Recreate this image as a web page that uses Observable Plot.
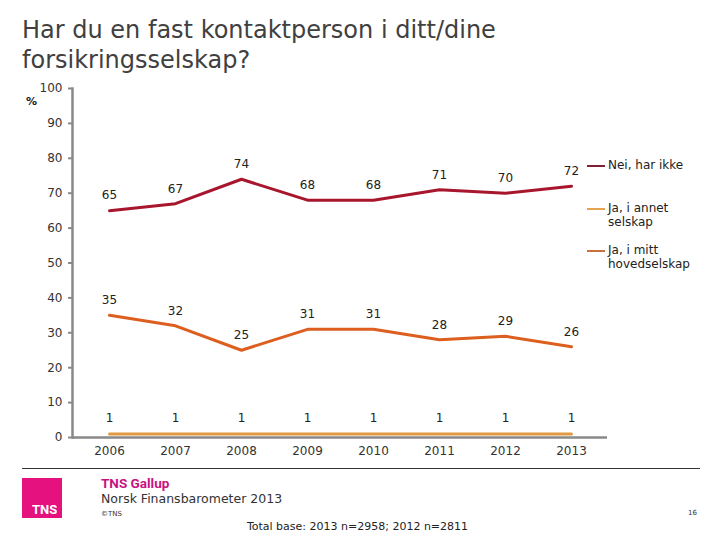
<!DOCTYPE html>
<html>
<head>
<meta charset="utf-8">
<script src="https://cdn.jsdelivr.net/npm/d3@7"></script>
<script src="https://cdn.jsdelivr.net/npm/@observablehq/plot@0.6"></script>
<style>
  body { margin: 0; background: #fff; font-family: "DejaVu Sans", Verdana, sans-serif; color: #333; }
  #page { position: relative; width: 720px; height: 540px; overflow: hidden; }
  #title { height: 80px; box-sizing: border-box; padding: 15px 0 0 22px; font-size: 24px; line-height: 30px; color: #404040; }
  .abs { position: absolute; white-space: nowrap; }
  .leg-line { position: absolute; width: 18px; height: 0; border-top: 2px solid; }
  .leg-text { position: absolute; font-size: 12px; line-height: 14px; color: #222; }
</style>
</head>
<body>
<div id="page">
  <div id="title">Har du en fast kontaktperson i ditt/dine<br>forsikringsselskap?</div>
  <div id="chart"></div>
  <div class="abs" style="left:26px;top:95px;font-size:11px;font-weight:bold;color:#222;">%</div>
  <div id="legend"></div>
  <div class="abs" style="left:22px;top:468px;width:678px;height:1px;background:#333;"></div>
  <div class="abs" style="left:22px;top:478px;width:40px;height:40px;background:#e5117f;">
    <div class="abs" style="left:10px;bottom:1px;font-family:Roboto,sans-serif;font-weight:bold;font-size:13px;color:#fff;">TNS</div>
  </div>
  <div class="abs" style="left:101px;top:475px;font-family:Roboto,sans-serif;font-weight:bold;font-size:13.5px;color:#c8137f;">TNS Gallup</div>
  <div class="abs" style="left:101px;top:491px;font-size:12.5px;color:#333;">Norsk Finansbarometer 2013</div>
  <div class="abs" style="left:101px;top:510px;font-size:7px;color:#333;">©TNS</div>
  <div class="abs" style="left:688px;top:509px;font-size:7px;color:#333;">16</div>
  <div class="abs" style="left:0;width:715px;text-align:center;top:520px;font-size:11px;color:#222;">Total base: 2013 n=2958; 2012 n=2811</div>
</div>
<script>
const years = ["2006", "2007", "2008", "2009", "2010", "2011", "2012", "2013"];
const seriesNames = ["Nei, har ikke", "Ja, i annet selskap", "Ja, i mitt hovedselskap"];
const neiHarIkke = [65, 67, 74, 68, 68, 71, 70, 72];
const jaAnnet = [1, 1, 1, 1, 1, 1, 1, 1];
const jaMitt = [35, 32, 25, 31, 31, 28, 29, 26];
const yTicks = [0, 10, 20, 30, 40, 50, 60, 70, 80, 90, 100];

const lineColors = ["#a8162e", "#e29a42", "#dc5f1f"];
const legendColors = ["#7e1f33", "#e8a352", "#c9703c"];
const values = [neiHarIkke, jaAnnet, jaMitt];

const rows = [];
values.forEach((vals, si) => vals.forEach((v, i) => rows.push({series: seriesNames[si], year: years[i], value: v})));

const marks = [
  Plot.ruleY([0], {stroke: "#898989", strokeWidth: 2.5}),
  Plot.frame({anchor: "left", stroke: "#898989", strokeWidth: 2.5}),
  Plot.axisY({ticks: yTicks, tickSize: 4, tickPadding: 6, stroke: "#898989", strokeWidth: 2, label: null, tickFormat: d => String(d)}),
  Plot.axisX({tickSize: 0, tickPadding: 9, label: null})
];
seriesNames.forEach((name, si) => {
  const data = rows.filter(r => r.series === name);
  marks.push(Plot.line(data, {x: "year", y: "value", stroke: lineColors[si], strokeWidth: 3}));
  marks.push(Plot.text(data, {x: "year", y: "value", text: d => String(d.value), dy: si === 1 ? -16 : -15, fill: "#222", fontSize: 12}));
});

const chart = Plot.plot({
  width: 720,
  height: 388,
  marginTop: 8,
  marginBottom: 31,
  marginLeft: 72,
  marginRight: 113,
  style: {fontFamily: "'DejaVu Sans', Verdana, sans-serif", fontSize: "12px", color: "#333", background: "#fff", overflow: "visible"},
  x: {type: "point", domain: years, range: [107, 573], padding: 0},
  y: {domain: [0, 100]},
  marks
});
document.getElementById("chart").appendChild(chart);

// legend (HTML, right of the plot)
const legendPos = [{y: 166, lines: ["Nei, har ikke"]}, {y: 209, lines: ["Ja, i annet", "selskap"]}, {y: 251, lines: ["Ja, i mitt", "hovedselskap"]}];
const legend = document.getElementById("legend");
seriesNames.forEach((name, si) => {
  const p = legendPos[si];
  const l = document.createElement("div");
  l.className = "leg-line";
  l.style.left = "587px";
  l.style.top = (p.y - 1) + "px";
  l.style.borderTopColor = legendColors[si];
  legend.appendChild(l);
  const t = document.createElement("div");
  t.className = "leg-text";
  t.style.left = "608px";
  t.style.top = (p.y - 8) + "px";
  t.innerHTML = p.lines.join("<br>");
  legend.appendChild(t);
});
</script>
</body>
</html>
